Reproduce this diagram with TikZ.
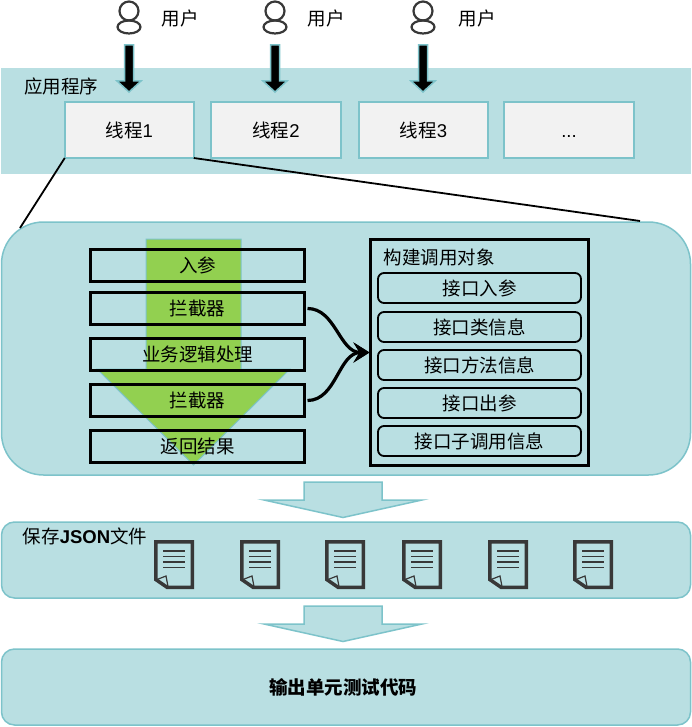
\documentclass[tikz,border=0pt]{standalone}
\usepackage{fontspec}
\usepackage{tikz}
\usetikzlibrary{arrows.meta}
\setmainfont{Noto Sans CJK SC}
\newfontfamily\latin{Liberation Sans}
\definecolor{bandfill}{HTML}{B9DFE2}
\definecolor{bandline}{HTML}{7DC3CA}
\definecolor{threadfill}{HTML}{F2F2F2}
\definecolor{flowgreen}{HTML}{92D050}
\definecolor{icondark}{HTML}{383838}
\begin{document}
\begin{tikzpicture}[x=1pt,y=-1pt,
    every node/.style={font=\fontsize{18.5}{20}\selectfont, inner sep=0pt, outer sep=0pt},
    panel/.style={draw=bandline, line width=1.5pt, fill=bandfill, rounded corners=13pt, minimum width=689pt, minimum height=76pt},
    threadbox/.style={draw=bandline, line width=2pt, fill=threadfill, minimum height=56pt},
    rowbox/.style={draw=black, line width=3pt, minimum width=214pt, minimum height=32pt},
    fieldbox/.style={draw=black, line width=1.8pt, rounded corners=6pt, minimum width=203pt, minimum height=30pt},
    hookline/.style={draw=black, line width=3.2pt, shorten <=3pt, shorten >=1pt, -{Stealth[length=16pt,width=20pt,inset=6pt]}},
    usericon/.pic={
        \draw[icondark, line width=2.2pt] (0,11) ellipse (9.5pt and 9.5pt);
        \draw[icondark, line width=2.2pt] (0,27) ellipse (11.5pt and 6.5pt);
    },
    userarrow/.pic={
        \draw[bandline, line width=1.5pt, fill=black] (-4.5,45) -- (4.5,45) -- (4.5,81) -- (12,81) -- (0,92) -- (-12,81) -- (-4.5,81) -- cycle;
    },
    stagearrow/.pic={
        \draw[bandline, line width=1.5pt, fill=bandfill] (-39,0) -- (39,0) -- (39,18) -- (79,18) -- (0,35.5) -- (-79,18) -- (-39,18) -- cycle;
    },
    docicon/.pic={
        \draw[icondark, line width=3.5pt, line join=miter] (1.75,1.75) -- (38.25,1.75) -- (38.25,47.25) -- (13,47.25) -- (1.75,39.5) -- cycle;
        \draw[icondark, line width=1.2pt] (3,39.5) -- (12,36) -- (14,46.5);
        \draw[icondark, line width=1.4pt] (9,11) -- (31,11);
        \draw[icondark, line width=1.4pt] (9,16.5) -- (31,16.5);
        \draw[icondark, line width=1.4pt] (9,22) -- (31,22);
        \draw[icondark, line width=1.4pt] (9,27.5) -- (31,27.5);
    }]
    \useasboundingbox (0,0) rectangle (692,727);

    % application band
    \node[fill=bandfill, minimum width=690pt, minimum height=106pt] (appband) at (346,121) {};
    \node (applabel) at (61,86) {应用程序};
    \node[threadbox, minimum width=129pt] (thread1) at (129.25,130) {\raisebox{-1pt}{线程{\latin 1}}};
    \node[threadbox, minimum width=130pt] (thread2) at (276,130) {\raisebox{-1pt}{线程{\latin 2}}};
    \node[threadbox, minimum width=129pt] (thread3) at (423.5,130) {\raisebox{-1pt}{线程{\latin 3}}};
    \node[threadbox, minimum width=130pt] (thread4) at (569,130) {\raisebox{-1pt}{\vphantom{线}\latin ...}};

    % users
    \pic at (129,0) {usericon};
    \pic at (275,0) {usericon};
    \pic at (423,0) {usericon};
    \node (user1) at (180,18) {用户};
    \node (user2) at (326,18) {用户};
    \node (user3) at (477,18) {用户};
    \pic at (129,0) {userarrow};
    \pic at (275,0) {userarrow};
    \pic at (423,0) {userarrow};

    % thread detail
    \node[panel, rounded corners=42pt, minimum height=253pt] (detail) at (346,348.5) {};
    \coordinate (detailleft) at (20,228);
    \coordinate (detailright) at (640,221);
    \draw[black, line width=1.8pt] (thread1.south west) -- (detailleft);
    \draw[black, line width=1.8pt] (thread1.south east) -- (detailright);

    \draw[bandline, line width=1pt, fill=flowgreen] (146,239) -- (241,239) -- (241,369) -- (290,369) -- (193.5,465) -- (97,369) -- (146,369) -- cycle;
    \node[rowbox] (row1) at (197.5,265) {入参};
    \node[rowbox] (row2) at (197.5,308.5) {拦截器};
    \node[rowbox] (row3) at (197.5,354.5) {业务逻辑处理};
    \node[rowbox] (row4) at (197.5,400.5) {拦截器};
    \node[rowbox] (row5) at (197.5,446.5) {返回结果};

    \node[draw=black, line width=3pt, minimum width=218pt, minimum height=226pt] (objbox) at (479.5,352.5) {};
    \node (objlabel) at (439,257) {构建调用对象};
    \node[fieldbox] (field1) at (479.5,288) {接口入参};
    \node[fieldbox] (field2) at (479.5,327) {接口类信息};
    \node[fieldbox] (field3) at (479.5,365) {接口方法信息};
    \node[fieldbox] (field4) at (479.5,403) {接口出参};
    \node[fieldbox] (field5) at (479.5,441) {接口子调用信息};

    \draw[hookline] (row2.east) to[out=0, in=180] (objbox.west);
    \draw[hookline] (row4.east) to[out=0, in=180] (objbox.west);

    % save and output
    \pic at (343,482) {stagearrow};
    \node[panel] (savepanel) at (346,560) {};
    \node (savelabel) at (85,536) {保存{\latin\bfseries JSON}文件};
    \pic at (154,540) {docicon};
    \pic at (240,540) {docicon};
    \pic at (325,540) {docicon};
    \pic at (402,540) {docicon};
    \pic at (488,540) {docicon};
    \pic at (573,540) {docicon};

    \pic at (343,606) {stagearrow};
    \node[panel] (outputpanel) at (346,687) {};
    \node (outputlabel) at (343,687) {\bfseries 输出单元测试代码};
\end{tikzpicture}
\end{document}
